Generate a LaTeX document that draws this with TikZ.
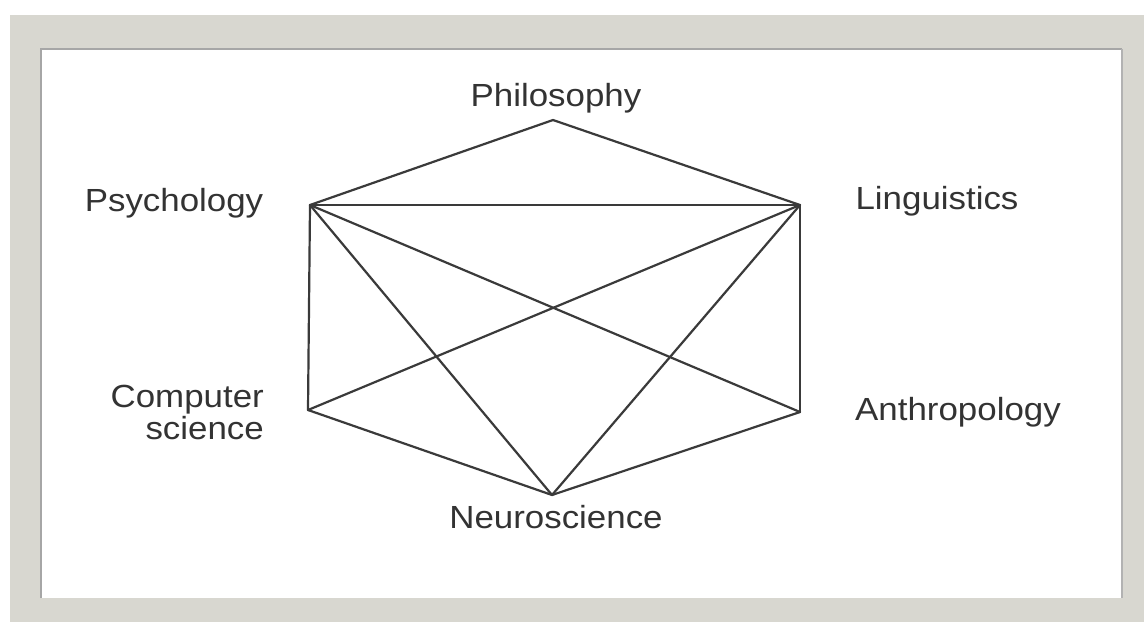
\documentclass[tikz,border=0pt]{standalone}
\usepackage{fontspec}
\setmainfont[FakeStretch=1.09]{Liberation Sans}
\definecolor{framegray}{HTML}{D8D7D0}
\definecolor{edgegray}{HTML}{3A3A3A}
\definecolor{txt}{HTML}{333333}
\begin{document}
\begin{tikzpicture}[x=1pt,y=-1pt,
  link/.style={draw=edgegray,line width=2.2pt,line cap=round,line join=round},
  lbl/.style={text=txt,font=\fontsize{32}{36}\selectfont,inner sep=0pt}]
\useasboundingbox (0,0) rectangle (1144,622);
\fill[white] (0,0) rectangle (1144,622);
% frame
\fill[framegray] (10,15) rectangle (1144,622);
\fill[white] (40,48) rectangle (1122,598);
\draw[gray!70,line width=2pt] (41,598) -- (41,49) -- (1122,49);
\draw[gray!60,line width=2pt] (1122,49) -- (1122,598);
% vertices
\coordinate (phil) at (553,120);
\coordinate (psy) at (310,205);
\coordinate (ling) at (800,205);
\coordinate (cs) at (308,410);
\coordinate (anth) at (800,412);
\coordinate (neuro) at (552,495);
% edges
\draw[link] (psy) -- (phil) -- (ling);
\draw[link] (psy) -- (ling);
\draw[link] (psy) -- (cs);
\draw[link] (ling) -- (anth);
\draw[link] (psy) -- (neuro);
\draw[link] (psy) -- (anth);
\draw[link] (ling) -- (cs);
\draw[link] (ling) -- (neuro);
\draw[link] (cs) -- (neuro) -- (anth);
% labels
\node[lbl] (tphil) at (556,98) {Philosophy};
\node[lbl] (tpsy) at (174,203) {Psychology};
\node[lbl] (tling) at (937,201) {Linguistics};
\node[lbl,align=right,anchor=east] (tcs) at (264,412) {Computer\\[-4pt]science};
\node[lbl] (tanth) at (958,412) {Anthropology};
\node[lbl] (tneuro) at (556,517) {Neuroscience};
\end{tikzpicture}
\end{document}
